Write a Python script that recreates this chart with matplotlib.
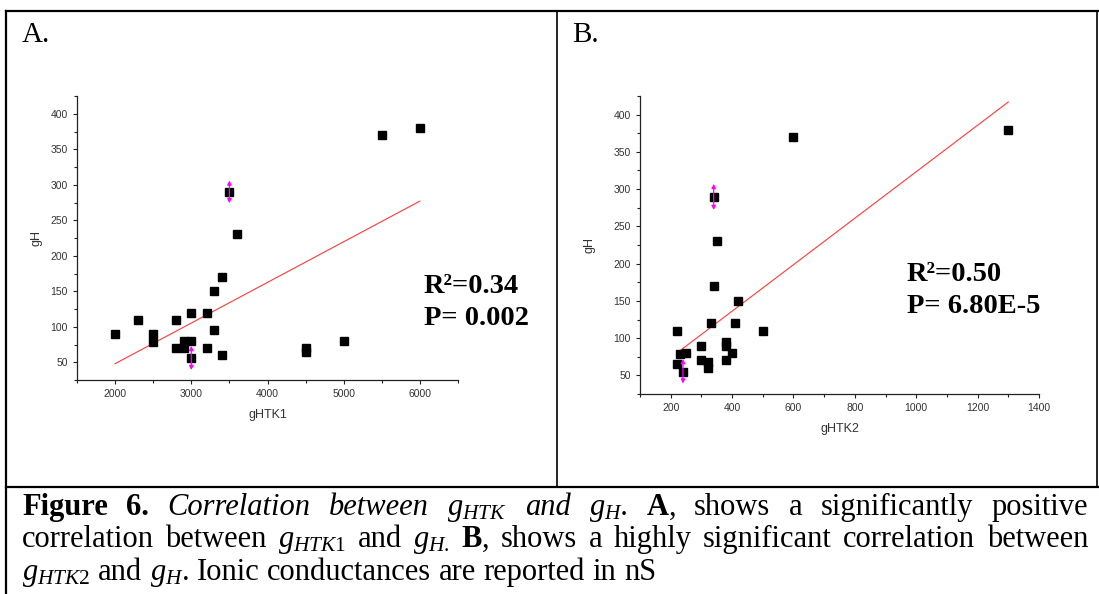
import numpy as np
import matplotlib.pyplot as plt
from matplotlib.ticker import MultipleLocator

plt.rcParams['mathtext.fontset'] = 'custom'
plt.rcParams['mathtext.rm'] = 'Liberation Serif'
plt.rcParams['mathtext.it'] = 'Liberation Serif:italic'
plt.rcParams['mathtext.bf'] = 'Liberation Serif:bold'

# panel A: gHTK1 vs gH
htk1 = [2000, 2300, 2500, 2500, 2800, 2800, 2900, 2900, 3000, 3000, 3000, 3200,
        3200, 3300, 3300, 3400, 3400, 3500, 3600, 4500, 4500, 5000, 5500, 6000]
gh_a = [90, 110, 90, 78, 110, 70, 80, 70, 120, 80, 56, 120,
        70, 150, 95, 170, 60, 290, 230, 70, 65, 80, 370, 380]
fit_a_x = [2000, 6000]
fit_a_y = [48, 277]
arrow_a_x = [3500, 3000]
arrow_a_lo = [274, 39]
arrow_a_hi = [306, 73]

# panel B: gHTK2 vs gH
htk2 = [220, 220, 230, 250, 240, 300, 300, 320, 320, 330, 340, 340,
        350, 380, 380, 380, 400, 410, 420, 500, 600, 1300]
gh_b = [110, 65, 79, 80, 55, 90, 70, 68, 60, 120, 290, 170,
        230, 95, 90, 70, 80, 120, 150, 110, 370, 380]
fit_b_x = [220, 1300]
fit_b_y = [80, 417]
arrow_b_x = [340, 240]
arrow_b_lo = [272, 39]
arrow_b_hi = [307, 72]

stats_a = ['R²=0.34', 'P= 0.002']
stats_b = ['R²=0.50', 'P= 6.80E-5']

caption = [
    [('Figure', 'b'), ('6.', 'b'), ('Correlation', 'i'), ('between', 'i'),
     (r'$g_{HTK}$', 'i'), ('and', 'i'), (r'$g_{H}$.', 'i'), (r'$\mathbf{A}$,', 'n'),
     ('shows', 'n'), ('a', 'n'), ('significantly', 'n'), ('positive', 'n')],
    [('correlation', 'n'), ('between', 'n'), (r'$g_{HTK\mathit{1}}$', 'n'), ('and', 'n'),
     (r'$g_{H.}$', 'n'), (r'$\mathbf{B}$,', 'n'), ('shows', 'n'), ('a', 'n'),
     ('highly', 'n'), ('significant', 'n'), ('correlation', 'n'), ('between', 'n')],
    [(r'$g_{HTK\mathit{2}}$', 'n'), ('and', 'n'), (r'$g_{H}$.', 'n'), ('Ionic', 'n'),
     ('conductances', 'n'), ('are', 'n'), ('reported', 'n'), ('in', 'n'), ('nS', 'n')],
]

W, H = 1099, 594
fig = plt.figure(figsize=(W / 100, H / 100), dpi=100)

# page layer in pixel units
bg = fig.add_axes([0, 0, 1, 1])
bg.set_xlim(0, W)
bg.set_ylim(H, 0)
bg.axis('off')
lw = 1.6
bg.plot([6, W], [11, 11], color='black', lw=lw)
bg.plot([6, 6], [11, H], color='black', lw=lw)
bg.plot([557, 557], [11, 487], color='black', lw=1.2)
bg.plot([1097, 1097], [11, 487], color='black', lw=1.2)
bg.plot([6, W], [487, 487], color='black', lw=lw)
bg.text(22, 42, 'A.', fontsize=21, family='Liberation Serif', va='baseline')
bg.text(572, 42, 'B.', fontsize=21, family='Liberation Serif', va='baseline')


def make_panel(rect, x, y, fx, fy, ax_x, lo, hi, xlim, xmaj, xmin, xlabel, ypad):
    ax = fig.add_axes(rect)
    ax.plot(fx, fy, color='#ff3b3b', lw=0.8, zorder=2)
    ax.plot(x, y, 's', color='black', ms=5.5, zorder=3)
    for xx, a, b in zip(ax_x, lo, hi):
        ax.annotate('', xy=(xx, a), xytext=(xx, b),
                    arrowprops=dict(arrowstyle='<|-|>', color='magenta', lw=0.9,
                                    mutation_scale=6, shrinkA=0, shrinkB=0), zorder=4)
    ax.set_xlim(*xlim)
    ax.set_ylim(25, 425)
    ax.xaxis.set_major_locator(MultipleLocator(xmaj))
    ax.xaxis.set_minor_locator(MultipleLocator(xmin))
    ax.yaxis.set_major_locator(MultipleLocator(50))
    ax.yaxis.set_minor_locator(MultipleLocator(25))
    for s in ['top', 'right']:
        ax.spines[s].set_visible(False)
    for s in ['left', 'bottom']:
        ax.spines[s].set_linewidth(0.9)
        ax.spines[s].set_color('#222222')
    ax.tick_params(which='major', length=3, width=0.8, pad=3.5, labelsize=7.5,
                   labelcolor='#333333', color='#222222')
    ax.tick_params(which='minor', length=2.5, width=0.8, color='#222222')
    for lab in ax.get_xticklabels() + ax.get_yticklabels():
        lab.set_family('Liberation Sans')
    ax.set_xlabel(xlabel, fontsize=9, family='Liberation Sans', color='#333333', labelpad=7)
    ax.set_ylabel('gH', fontsize=9, family='Liberation Sans', color='#333333', labelpad=ypad)
    ax.patch.set_alpha(0)
    return ax


make_panel([77 / W, 1 - 380 / H, 381 / W, 284 / H], htk1, gh_a, fit_a_x, fit_a_y,
           arrow_a_x, arrow_a_lo, arrow_a_hi, (1500, 6500), 1000, 500, 'gHTK1', 6)
make_panel([640 / W, 1 - 394 / H, 399 / W, 298 / H], htk2, gh_b, fit_b_x, fit_b_y,
           arrow_b_x, arrow_b_lo, arrow_b_hi, (100, 1400), 200, 100, 'gHTK2', 13)

for (x0, y0), lines in [((424, 293), stats_a), ((907, 281), stats_b)]:
    for k, s in enumerate(lines):
        bg.text(x0, y0 + 32 * k, s, fontsize=20.5, fontweight='bold',
                family='Liberation Serif', va='baseline')

# justified caption
renderer = fig.canvas.get_renderer()
cap_size = 22
baselines = [515, 547, 580]
left, right = 22, 1088
for i, words in enumerate(caption):
    texts = []
    for w, st in words:
        t = bg.text(0, baselines[i], w, fontsize=cap_size, family='Liberation Serif',
                    va='baseline', fontweight='bold' if st == 'b' else 'normal',
                    fontstyle='italic' if st == 'i' else 'normal')
        texts.append(t)
    widths = [t.get_window_extent(renderer).width for t in texts]
    if i < len(caption) - 1:
        gap = (right - left - sum(widths)) / (len(texts) - 1)
    else:
        gap = 0.25 * cap_size * 100 / 72
    xpos = left
    for t, wd in zip(texts, widths):
        t.set_x(xpos)
        xpos += wd + gap

fig.savefig('out.png', dpi=100)
